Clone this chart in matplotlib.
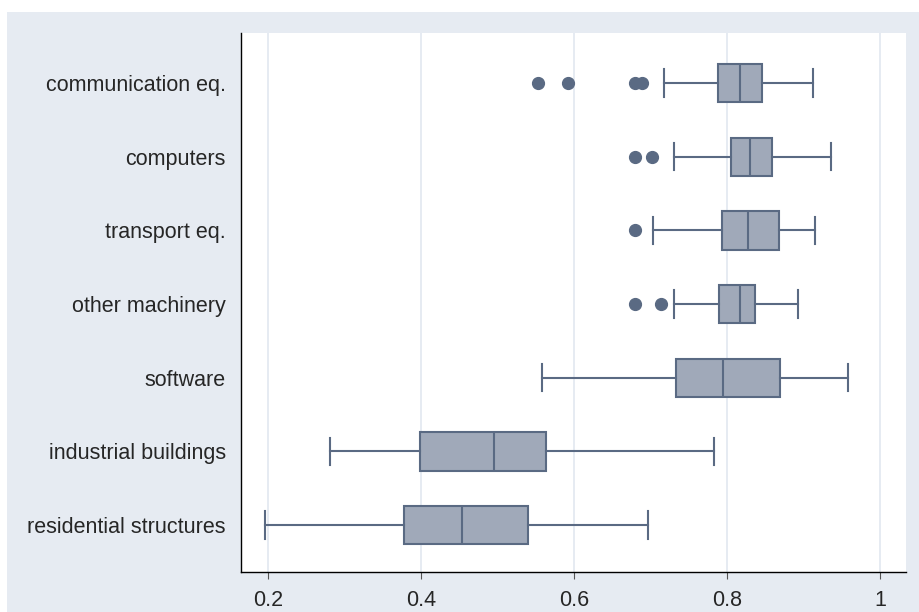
import matplotlib
matplotlib.use("Agg")
import matplotlib.pyplot as plt
from matplotlib.patches import Rectangle

# Box summaries (bottom row first)
categories = ["residential structures", "industrial buildings", "software",
              "other machinery", "transport eq.", "computers", "communication eq."]
whislo = [0.196, 0.281, 0.558, 0.731, 0.703, 0.731, 0.718]
q1 = [0.378, 0.399, 0.733, 0.790, 0.793, 0.805, 0.788]
med = [0.454, 0.495, 0.795, 0.817, 0.827, 0.830, 0.817]
q3 = [0.540, 0.563, 0.869, 0.837, 0.868, 0.859, 0.846]
whishi = [0.697, 0.783, 0.958, 0.893, 0.915, 0.936, 0.912]
fliers = [[], [], [], [0.680, 0.714], [0.680], [0.680, 0.702],
          [0.553, 0.592, 0.680, 0.689]]
xticks = [0.2, 0.4, 0.6, 0.8, 1.0]
xticklabels = ["0.2", "0.4", "0.6", "0.8", "1"]

plt.rcParams['font.family'] = ['Liberation Sans', 'DejaVu Sans']

edge = "#5a6a83"
fill = "#a0a9b9"
bg = "#e6ebf2"

fig = plt.figure(figsize=(9.2, 6.12), dpi=100)
fig.patch.set_facecolor("white")
# light blue-grey graph region (white strip on top and left)
fig.add_artist(Rectangle((7 / 920, 0), 1, 600 / 612, transform=fig.transFigure,
                         facecolor=bg, edgecolor="none", zorder=-10))

ax = fig.add_axes([241 / 920, 40 / 612, 665 / 920, 539 / 612])
ax.set_zorder(1)
ax.set_facecolor("white")

stats = []
for i in range(len(categories)):
    stats.append(dict(whislo=whislo[i], q1=q1[i], med=med[i], q3=q3[i],
                      whishi=whishi[i], fliers=fliers[i], label=categories[i]))

ax.bxp(stats, positions=range(1, len(categories) + 1), vert=False, widths=0.52,
       patch_artist=True, showfliers=True,
       boxprops=dict(facecolor=fill, edgecolor=edge, linewidth=1.5),
       medianprops=dict(color=edge, linewidth=1.5),
       whiskerprops=dict(color=edge, linewidth=1.5),
       capprops=dict(color=edge, linewidth=1.5),
       capwidths=0.37,
       flierprops=dict(marker="o", markerfacecolor=edge, markeredgecolor=edge,
                       markersize=8.5))

ax.set_xlim(0.165, 1.034)
ax.set_ylim(0.362, 7.68)
ax.set_xticks(xticks)
ax.set_xticklabels(xticklabels)
ax.grid(axis="x", color="#e6ebf2", linewidth=1.4)
ax.set_axisbelow(True)

for s in ["top", "right"]:
    ax.spines[s].set_visible(False)
ax.spines["left"].set_color("black")
ax.spines["bottom"].set_color("black")
ax.spines["left"].set_linewidth(1.0)
ax.spines["bottom"].set_linewidth(1.0)

ax.tick_params(axis="y", length=0, pad=11, labelsize=15.5, labelcolor="#262626")
ax.tick_params(axis="x", length=5, width=0.8, color="#555555", pad=8,
               labelsize=15.5, labelcolor="#262626")

fig.savefig("out.png", dpi=100, facecolor=fig.get_facecolor())
